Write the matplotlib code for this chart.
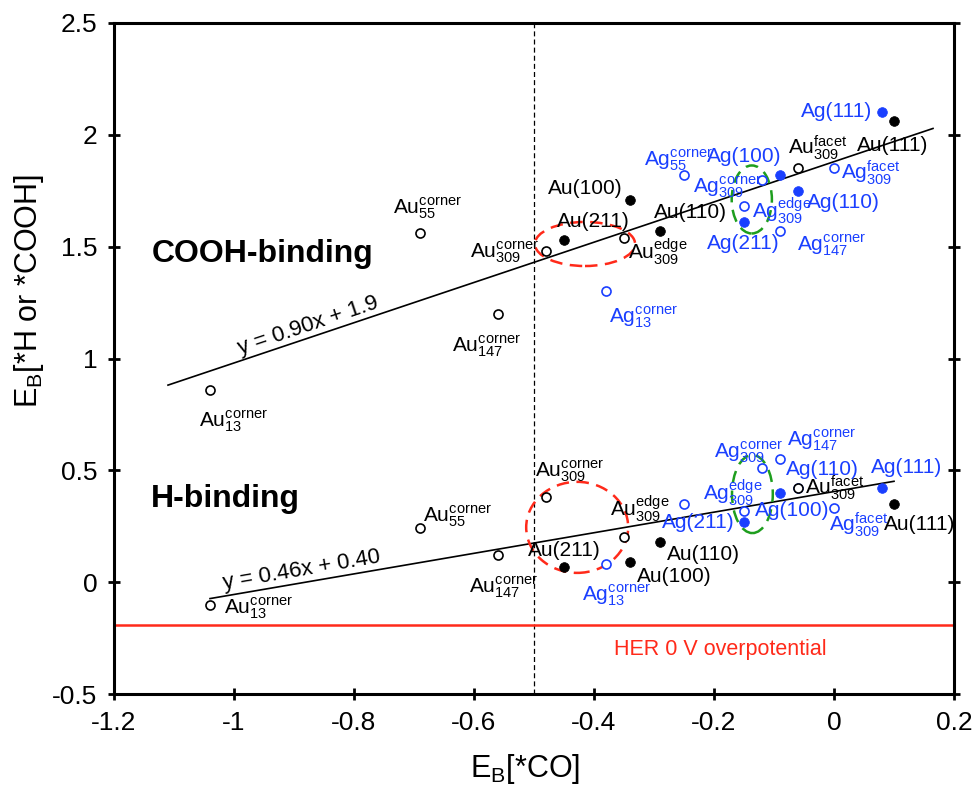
import numpy as np
import matplotlib
matplotlib.use('Agg')
import matplotlib.pyplot as plt
from matplotlib.patches import Ellipse
from matplotlib.ticker import FuncFormatter

plt.rcParams['font.family'] = ['Liberation Sans', 'DejaVu Sans']
plt.rcParams['mathtext.fontset'] = 'custom'
plt.rcParams['mathtext.rm'] = 'Liberation Sans'
plt.rcParams['mathtext.it'] = 'Liberation Sans:italic'
plt.rcParams['mathtext.bf'] = 'Liberation Sans:bold'
plt.rcParams['axes.unicode_minus'] = False

# --- data ---
au_labels = [r'Au$_{\rm 13}^{\rm corner}$', r'Au$_{\rm 55}^{\rm corner}$', r'Au$_{\rm 147}^{\rm corner}$',
             r'Au$_{\rm 309}^{\rm corner}$', r'Au$_{\rm 309}^{\rm edge}$', r'Au$_{\rm 309}^{\rm facet}$',
             'Au(211)', 'Au(100)', 'Au(110)', 'Au(111)']
au_co = [-1.04, -0.69, -0.56, -0.48, -0.35, -0.06, -0.45, -0.34, -0.29, 0.10]
au_cooh = [0.86, 1.56, 1.20, 1.48, 1.54, 1.85, 1.53, 1.71, 1.57, 2.06]
au_h = [-0.10, 0.24, 0.12, 0.38, 0.20, 0.42, 0.07, 0.09, 0.18, 0.35]

ag_labels = [r'Ag$_{\rm 13}^{\rm corner}$', r'Ag$_{\rm 55}^{\rm corner}$', r'Ag$_{\rm 147}^{\rm corner}$',
             r'Ag$_{\rm 309}^{\rm corner}$', r'Ag$_{\rm 309}^{\rm edge}$', r'Ag$_{\rm 309}^{\rm facet}$',
             'Ag(211)', 'Ag(100)', 'Ag(110)', 'Ag(111)']
ag_co = [-0.38, -0.25, -0.09, -0.12, -0.15, 0.00, -0.15, -0.09, -0.06, 0.08]
ag_cooh = [1.30, 1.82, 1.57, 1.80, 1.68, 1.85, 1.61, 1.82, 1.75, 2.10]
ag_h = [0.08, 0.35, 0.55, 0.51, 0.32, 0.33, 0.27, 0.40, 0.42, 0.42]

# surfaces are filled, nanoparticle sites are open
is_surface = [False] * 6 + [True] * 4

# linear fits
cooh_fit = (0.90, 1.88)   # slope, intercept
cooh_fit_range = (-1.11, 0.165)
h_fit = (0.46, 0.405)
h_fit_range = (-1.04, 0.10)

her_level = -0.19

# --- label offsets in pixels (dx, dy) ---
cooh_au_off = [(-11, -37), (-27, 20), (-46, -38), (-76, -6), (4, -21), (-10, 14),
               (-7, 13), (-82, 6), (-6, 13), (-37, -30)]
cooh_ag_off = [(3, -31), (-40, 10), (17, -19), (-69, -13), (8, -12), (7, -11),
               (-37, -27), (-73, 13), (9, -17), (-81, -5)]
h_au_off = [(14, -9), (3, 7), (-29, -37), (-11, 21), (-14, 21), (7, -6),
            (-36, 11), (7, -20), (7, -18), (-10, -26)]
h_ag_off = [(-24, -36), None, (7, 14), (-48, 11), (-41, 11), (-5, -23),
            (-82, -6), (-25, -23), (-12, 13), (-11, 15)]

BLUE = '#1a3fff'
RED = '#ff2a1a'
GREEN = '#1e9e1e'

fig = plt.figure(figsize=(9.75, 7.85), dpi=100)
ax = fig.add_axes([114 / 975, 91 / 785, 840 / 975, 671 / 785])
ax.set_xlim(-1.2, 0.2)
ax.set_ylim(-0.5, 2.5)

# reference lines
ax.axvline(-0.5, color='black', lw=0.9, ls=(0, (4, 2.5)), zorder=1)
ax.axhline(her_level, color=RED, lw=1.8, zorder=1)
ax.text(-0.012, -0.325, 'HER 0 V overpotential', color=RED, fontsize=15.5,
        ha='right', va='baseline')

# fit lines
for (m, b), (x0, x1) in [(cooh_fit, cooh_fit_range), (h_fit, h_fit_range)]:
    xs = np.array([x0, x1])
    ax.plot(xs, m * xs + b, color='black', lw=1.2, zorder=2)

# dashed ellipses around the 211-like sites
ellipses = [((-0.415, 1.512), 0.167, 0.197, RED),
            ((-0.137, 1.711), 0.067, 0.304, GREEN),
            ((-0.428, 0.245), 0.170, 0.407, RED),
            ((-0.136, 0.394), 0.068, 0.349, GREEN)]
for c, w, h, col in ellipses:
    ax.add_patch(Ellipse(c, w, h, fill=False, ec=col, lw=1.8, ls=(0, (5, 3)), zorder=2))


def draw_points(xs, ys, color, zo):
    for x, y, filled in zip(xs, ys, is_surface):
        if filled:
            ax.plot(x, y, 'o', ms=7, mfc=color, mec=color, mew=0.5, zorder=zo)
        else:
            ax.plot(x, y, 'o', ms=6.5, mfc='white', mec=color, mew=1.2, zorder=zo + 1)


def draw_labels(xs, ys, labels, offsets, color):
    for x, y, lab, off in zip(xs, ys, labels, offsets):
        if off is None:
            continue
        ax.annotate(lab, (x, y), xytext=off, textcoords='offset pixels',
                    ha='left', va='baseline', fontsize=15, color=color, zorder=5)


draw_points(ag_co, ag_cooh, BLUE, 3)
draw_points(ag_co, ag_h, BLUE, 3)
draw_points(au_co, au_cooh, 'black', 3)
draw_points(au_co, au_h, 'black', 3)

draw_labels(au_co, au_cooh, au_labels, cooh_au_off, 'black')
draw_labels(ag_co, ag_cooh, ag_labels, cooh_ag_off, BLUE)
draw_labels(au_co, au_h, au_labels, h_au_off, 'black')
draw_labels(ag_co, ag_h, ag_labels, h_ag_off, BLUE)


# fit equations, rotated along the lines
def line_angle(m):
    p0 = ax.transData.transform((0, 0))
    p1 = ax.transData.transform((1, m))
    return np.degrees(np.arctan2(p1[1] - p0[1], p1[0] - p0[0]))


ax.text(-0.873, 1.125, 'y = 0.90x + 1.9', fontsize=16, rotation=line_angle(cooh_fit[0]),
        rotation_mode='anchor', ha='center', va='baseline')
ax.text(-0.885, 0.03, 'y = 0.46x + 0.40', fontsize=16, rotation=line_angle(h_fit[0]),
        rotation_mode='anchor', ha='center', va='baseline')

ax.text(-1.137, 1.432, 'COOH-binding', fontsize=23, fontweight='bold', va='baseline')
ax.text(-1.138, 0.336, 'H-binding', fontsize=23, fontweight='bold', va='baseline')

# axes styling
for s in ax.spines.values():
    s.set_linewidth(2.2)
ax.set_xticks(np.arange(-1.2, 0.21, 0.2))
ax.set_yticks(np.arange(-0.5, 2.51, 0.5))
fmt = FuncFormatter(lambda v, p: '%g' % (round(v, 2) + 0.0))
ax.xaxis.set_major_formatter(fmt)
ax.yaxis.set_major_formatter(fmt)
ax.tick_params(direction='inout', length=8, width=2, labelsize=19,
               top=False, right=True, pad=8)

ax.text(0.489, -0.123, r'E$_{\rm B}$[*CO]', transform=ax.transAxes, fontsize=22,
        ha='center', va='baseline')
ax.text(-0.092, 0.60, r'E$_{\rm B}$[*H or *COOH]', transform=ax.transAxes, fontsize=22,
        rotation=90, rotation_mode='anchor', ha='center', va='baseline')

fig.savefig('out.png', dpi=100)
